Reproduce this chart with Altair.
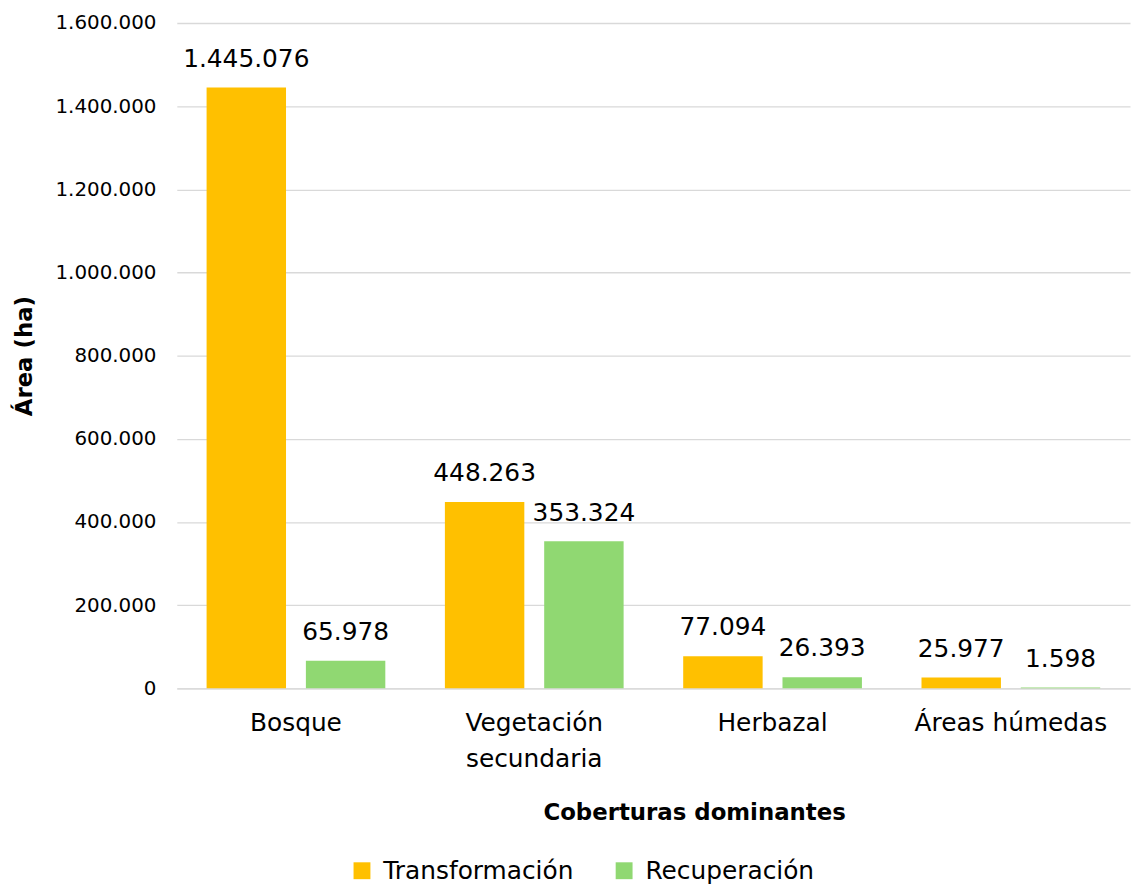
import altair as alt
import pandas as pd

categorias = ["Bosque", "Vegetación secundaria", "Herbazal", "Áreas húmedas"]
series = ["Transformación", "Recuperación"]
transformacion = [1445076, 448263, 77094, 25977]
recuperacion = [65978, 353324, 26393, 1598]
colores = ["#FFC000", "#90D872"]
y_ticks = [0, 200000, 400000, 600000, 800000, 1000000, 1200000, 1400000, 1600000]

rows = []
for c, t, r in zip(categorias, transformacion, recuperacion):
    rows.append({"cat": c, "serie": series[0], "valor": t})
    rows.append({"cat": c, "serie": series[1], "valor": r})
df = pd.DataFrame(rows)

FONT = "DejaVu Sans"

x_enc = alt.X(
    "cat:N",
    sort=categorias,
    scale=alt.Scale(paddingInner=0.25, paddingOuter=0.125),
    axis=alt.Axis(
        title="Coberturas dominantes",
        labelAngle=0,
        labelFontSize=25,
        labelFont=FONT,
        labelColor="#000000",
        labelPadding=23,
        labelBaseline="top",
        labelLineHeight=36,
        labelLimit=0,
        labelExpr="datum.label == 'Vegetación secundaria' ? ['Vegetación', 'secundaria'] : datum.label",
        ticks=False,
        domain=True,
        domainColor="#D9D9D9",
        domainWidth=1.3,
        grid=False,
        titleFont=FONT,
        titleFontSize=23,
        titleFontWeight="bold",
        titleColor="#000000",
        titleX=521,
        titleY=125,
        titleAlign="center",
        titleBaseline="middle",
    ),
)
xoff = alt.XOffset("serie:N", sort=series, scale=alt.Scale(paddingInner=0.2))
y_enc = alt.Y(
    "valor:Q",
    scale=alt.Scale(domain=[0, 1600000], nice=False),
    axis=alt.Axis(
        title="Área (ha)",
        values=y_ticks,
        format=",d",
        labelFontSize=20,
        labelFont=FONT,
        labelColor="#000000",
        labelPadding=21,
        ticks=False,
        domain=False,
        grid=True,
        gridColor="#D9D9D9",
        gridWidth=1.3,
        titleFont=FONT,
        titleFontSize=23,
        titleFontWeight="bold",
        titleColor="#000000",
        titleAngle=-90,
        titleX=-153,
        titleY=335,
        titleAlign="center",
        titleBaseline="middle",
    ),
)
color_enc = alt.Color(
    "serie:N",
    sort=series,
    scale=alt.Scale(domain=series, range=colores),
    legend=alt.Legend(
        title=None,
        orient="none",
        legendX=174,
        legendY=841,
        direction="horizontal",
        symbolType="square",
        symbolSize=289,
        symbolStrokeWidth=0,
        labelFontSize=25,
        labelFont=FONT,
        labelColor="#000000",
        labelOffset=9,
        labelLimit=0,
        columnPadding=38,
        padding=0,
    ),
)

base = alt.Chart(df).encode(x=x_enc, xOffset=xoff, y=y_enc)

bars = base.mark_bar().encode(color=color_enc)
labels = base.mark_text(
    dy=-29, baseline="middle", fontSize=25, font=FONT, color="#000000"
).encode(text=alt.Text("valor:Q", format=",d"))

chart = (
    alt.layer(bars, labels)
    .properties(
        width=960,
        height=670,
        autosize="none",
        padding={"left": 170, "top": 12, "right": 2, "bottom": 196},
    )
    .configure(
        locale={
            "number": {
                "decimal": ",",
                "thousands": ".",
                "grouping": [3],
                "currency": ["", ""],
            }
        }
    )
    .configure_view(stroke=None)
)

chart.save("out.html", embed_options={"renderer": "svg", "actions": False})
